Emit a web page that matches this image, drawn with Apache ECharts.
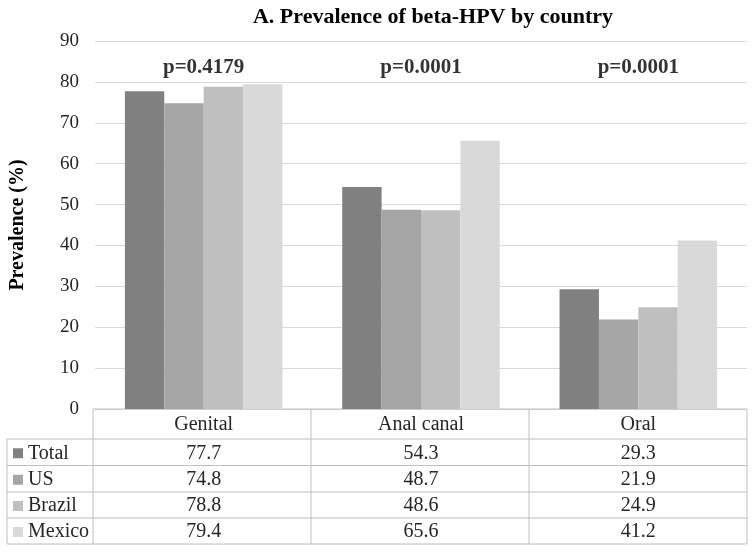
<!DOCTYPE html>
<html><head><meta charset="utf-8">
<script src="https://cdn.jsdelivr.net/npm/echarts@6/dist/echarts.min.js"></script>
<style>html,body{margin:0;padding:0;background:#fff}#c{width:754px;height:552px}</style>
</head><body><div id="c"></div>
<script>
const categories = ['Genital', 'Anal canal', 'Oral'];
const seriesNames = ['Total', 'US', 'Brazil', 'Mexico'];
const total = [77.7, 54.3, 29.3];
const us = [74.8, 48.7, 21.9];
const brazil = [78.8, 48.6, 24.9];
const mexico = [79.4, 65.6, 41.2];
const pValues = ['p=0.4179', 'p=0.0001', 'p=0.0001'];
const pLabelLevel = 83.4;
const yTicks = [0, 10, 20, 30, 40, 50, 60, 70, 80, 90];

const colors = ['#808080', '#a5a5a5', '#bfbfbf', '#d9d9d9'];
const seriesData = [total, us, brazil, mexico];
const FONT = '"Liberation Serif", "Times New Roman", serif';
const TXT = '#262626';

const G = {left: 93, right: 7, top: 41, bottom: 143};
const W = 754, H = 552;
const plotL = G.left, plotR = W - G.right, plotB = H - G.bottom;
const tableLeft = 7;
const rowLines = [409, 439, 465.5, 492, 518, 544];
const lineColor = '#bfbfbf';

const chart = echarts.init(document.getElementById('c'), null, {renderer: 'canvas'});

const series = seriesNames.map((n, i) => ({
  name: n, type: 'bar', data: seriesData[i],
  barGap: '0%', barCategoryGap: '27.5%',
  itemStyle: {color: colors[i]}, silent: true
}));
series.push({
  type: 'scatter', symbolSize: 0, silent: true,
  data: categories.map((c, i) => [c, pLabelLevel, pValues[i]]),
  label: {show: true, position: 'inside', formatter: p => p.data[2],
    fontFamily: FONT, fontWeight: 'bold', fontSize: 21, color: '#000'}
});

chart.setOption({
  animation: false,
  title: {text: 'A. Prevalence of beta-HPV by country', left: 428, textAlign: 'center', top: 1,
    textStyle: {fontFamily: FONT, fontWeight: 'bold', fontSize: 22, color: '#000'}},
  grid: {left: G.left, right: G.right, top: G.top, bottom: G.bottom, containLabel: false},
  xAxis: {type: 'category', data: categories, axisLine: {show: false}, axisTick: {show: false},
    axisLabel: {show: false}},
  yAxis: {type: 'value', min: yTicks[0], max: yTicks[yTicks.length - 1], interval: 10,
    name: 'Prevalence (%)', nameLocation: 'middle', nameGap: 67, nameRotate: 90,
    nameTextStyle: {fontFamily: FONT, fontWeight: 'bold', fontSize: 20, color: '#000'},
    axisLine: {show: false}, axisTick: {show: false},
    axisLabel: {margin: 16, fontFamily: FONT, fontSize: 19, color: TXT},
    splitLine: {lineStyle: {color: '#d9d9d9', width: 1}}},
  series: series
});

// data table under the plot
const g = [];
const ln = (x1, y1, x2, y2) => g.push({type: 'line', silent: true,
  shape: {x1, y1, x2, y2}, style: {stroke: lineColor, lineWidth: 1}});
const catX = categories.map((c, i) => chart.convertToPixel({xAxisIndex: 0}, c));
const bandW = (plotR - plotL) / categories.length;
ln(plotL, rowLines[0], plotR, rowLines[0]);
for (let r = 1; r < rowLines.length; r++) ln(tableLeft, rowLines[r], plotR, rowLines[r]);
ln(tableLeft, rowLines[1], tableLeft, rowLines[rowLines.length - 1]);
for (let i = 0; i <= categories.length; i++) {
  const x = plotL + i * bandW;
  ln(x, rowLines[0], x, rowLines[rowLines.length - 1]);
}
const txt = (x, y, s, align) => g.push({type: 'text', silent: true, x, y,
  style: {text: s, fill: TXT, font: '20px ' + FONT, textAlign: align, textVerticalAlign: 'middle'}});
categories.forEach((c, i) => txt(catX[i], (rowLines[0] + rowLines[1]) / 2 + 1, c, 'center'));
seriesNames.forEach((n, r) => {
  const yc = (rowLines[r + 1] + rowLines[r + 2]) / 2 + 1;
  g.push({type: 'rect', silent: true, shape: {x: 13, y: yc - 5, width: 10, height: 10},
    style: {fill: colors[r]}});
  txt(28, yc, n, 'left');
  seriesData[r].forEach((v, i) => txt(catX[i], yc, v.toFixed(1), 'center'));
});
chart.setOption({graphic: {elements: g}});
</script></body></html>
